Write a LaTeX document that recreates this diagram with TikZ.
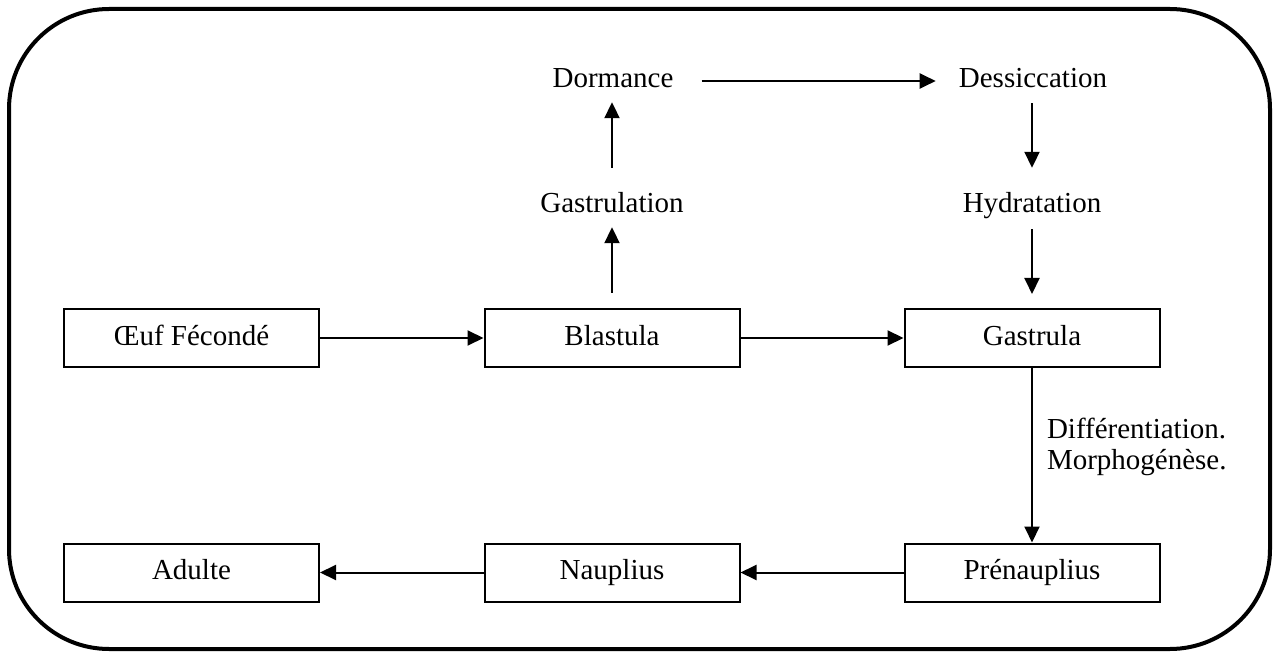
\documentclass[tikz,border=0pt]{standalone}
\usepackage{fontspec}
\setmainfont{Liberation Serif}
\usetikzlibrary{arrows.meta}
\begin{document}
\begin{tikzpicture}[x=1pt,y=-1pt,
  every node/.style={font=\fontsize{29}{31}\selectfont},
  stagebox/.style={draw,line width=2pt,minimum width=255pt,minimum height=58pt,inner sep=0pt,text height=20pt,text depth=6pt},
  stagetext/.style={inner sep=0pt,text height=20pt,text depth=6pt,anchor=base},
  conn/.style={line width=2pt,-{Triangle[length=16pt,width=15pt]}}]
\useasboundingbox (0,0) rectangle (1274,652);
\draw[line width=4pt,rounded corners=100pt] (9,9) rectangle (1270,649);
% boxes
\node[stagebox] (oeuf) at (191.5,338) {Œuf Fécondé};
\node[stagebox] (blas) at (612,338) {Blastula};
\node[stagebox] (gast) at (1032,338) {Gastrula};
\node[stagebox] (adul) at (191.5,572.5) {Adulte};
\node[stagebox] (naup) at (612,572.5) {Nauplius};
\node[stagebox] (pren) at (1032,572.5) {Prénauplius};
% free texts
\node[stagetext] (dorm) at (613,88) {Dormance};
\node[stagetext] (dess) at (1033,88) {Dessiccation};
\node[stagetext] (gasl) at (612,213) {Gastrulation};
\node[stagetext] (hydr) at (1032,213) {Hydratation};
% arrows
\draw[conn] (oeuf) -- (blas);
\draw[conn] (blas) -- (gast);
\draw[conn] (pren) -- (naup);
\draw[conn] (naup) -- (adul);
\draw[conn,shorten <=15pt,shorten >=8pt] (blas.north) -- (blas.north |- gasl.south);
\draw[conn,shorten <=25pt,shorten >=8pt] (gasl.north) -- (gasl.north |- dorm.south);
\draw[conn,shorten <=28pt,shorten >=23pt] (dorm.east) -- (dess.west |- dorm.east);
\draw[conn,shorten <=9pt,shorten >=25pt] (gast.north |- dess.south) -- (gast.north |- hydr.north);
\draw[conn,shorten <=10pt,shorten >=14pt] (gast.north |- hydr.south) -- (gast.north);
\draw[conn] (gast.south) -- node[pos=0.38,anchor=west,xshift=14pt,yshift=-13pt,align=left,inner sep=0pt] (lab) {Différentiation.\\Morphogénèse.} (pren.north);
\end{tikzpicture}
\end{document}
